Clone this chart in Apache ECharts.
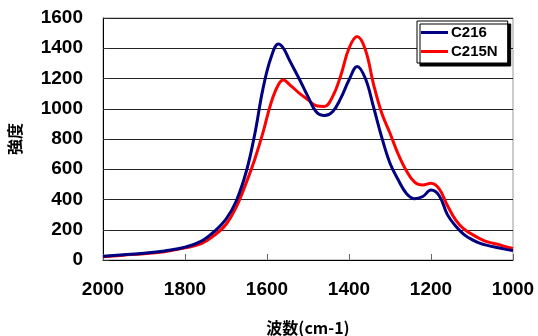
<!DOCTYPE html>
<html><head><meta charset="utf-8">
<script src="https://cdn.jsdelivr.net/npm/echarts@6/dist/echarts.min.js"></script>
<style>html,body{margin:0;padding:0;background:#fff}#c{width:538px;height:336px}</style>
</head><body><div id="c"></div>
<script>
const wavenumbers = [2000,1950,1900,1850,1800,1760,1730,1700,1675,1650,1630,1610,1590,1572,1560,1545,1520,1500,1480,1460,1440,1420,1400,1380,1360,1340,1320,1300,1280,1260,1240,1220,1200,1180,1160,1140,1120,1100,1080,1060,1040,1020,1000];
const c216 = [25,35,45,60,84,125,185,270,390,590,830,1130,1340,1428,1400,1320,1190,1080,980,955,980,1070,1190,1280,1200,1010,810,640,530,440,405,420,462,425,300,225,170,135,110,95,83,72,62];
const c215n = [22,32,42,55,80,108,160,235,350,515,665,840,1040,1160,1190,1160,1100,1060,1020,1015,1080,1220,1400,1477,1390,1160,970,838,700,590,515,496,507,470,360,265,205,170,140,118,106,90,77];
const seriesNames = ['C216','C215N'];
const xTicks = [2000,1800,1600,1400,1200,1000];
const yTicks = [0,200,400,600,800,1000,1200,1400,1600];

const font = '"Liberation Sans","Noto Sans CJK JP",sans-serif';
const cjk = '"Noto Sans CJK JP",sans-serif';
const chart = echarts.init(document.getElementById('c'));
chart.setOption({
  animation:false,
  backgroundColor:'#fff',
  grid:{left:103,right:25,top:18,bottom:76,containLabel:false,outerBoundsMode:'none',show:true,borderColor:'#999',borderWidth:1,backgroundColor:'#fff'},
  legend:{
    data:seriesNames, orient:'vertical', left:417, top:21,
    backgroundColor:'#fff', borderColor:'#000', borderWidth:1,
    shadowColor:'#000', shadowOffsetX:3, shadowOffsetY:3, shadowBlur:0,
    padding:[4,10,4,4], itemGap:4, itemWidth:27, itemHeight:3, icon:'rect',
    textStyle:{fontFamily:font,fontWeight:'bold',fontSize:15,color:'#000',padding:[0,0,0,-2]}
  },
  xAxis:{
    type:'value', min:1000, max:2000, interval:200, inverse:true,
    name:'波数(cm-1)', nameLocation:'middle', nameGap:60,
    nameTextStyle:{fontFamily:cjk,fontWeight:'bold',fontSize:16,color:'#000'},
    axisLine:{lineStyle:{color:'#000',width:1}},
    axisTick:{inside:true,length:6,lineStyle:{color:'#666'}},
    axisLabel:{fontFamily:font,fontWeight:'bold',fontSize:19,color:'#000',margin:20,formatter:v=>String(v)},
    splitLine:{show:false}
  },
  yAxis:{
    type:'value', min:0, max:1600, interval:200,
    name:'強度', nameLocation:'middle', nameGap:80, nameRotate:90,
    nameTextStyle:{fontFamily:cjk,fontWeight:'bold',fontSize:16,color:'#000'},
    axisLine:{show:true,lineStyle:{color:'#000',width:1}},
    axisTick:{show:true,inside:true,length:6,lineStyle:{color:'#333'}},
    axisLabel:{fontFamily:font,fontWeight:'bold',fontSize:19,color:'#000',margin:20,formatter:v=>String(v)},
    splitLine:{show:true,lineStyle:{color:'#222',width:1}}
  },
  series:[
    {name:seriesNames[0],type:'line',data:wavenumbers.map((w,i)=>[w,c216[i]]),smooth:0.4,showSymbol:false,
     lineStyle:{color:'#000080',width:3},itemStyle:{color:'#000080'},z:3},
    {name:seriesNames[1],type:'line',data:wavenumbers.map((w,i)=>[w,c215n[i]]),smooth:0.4,showSymbol:false,
     lineStyle:{color:'#ff0000',width:3},itemStyle:{color:'#ff0000'},z:2}
  ]
});
</script></body></html>
